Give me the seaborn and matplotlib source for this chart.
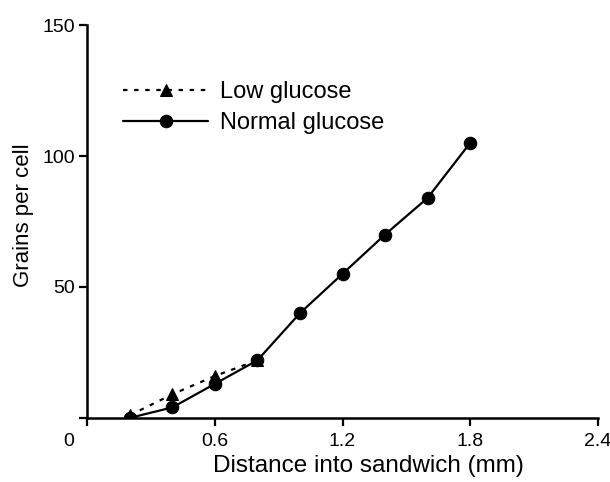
import numpy as np
import pandas as pd
import matplotlib
matplotlib.use("Agg")
import matplotlib.pyplot as plt
import matplotlib.transforms as mtransforms
import seaborn as sns

# data
dist_normal = [0.2, 0.4, 0.6, 0.8, 1.0, 1.2, 1.4, 1.6, 1.8]
grains_normal = [0, 4, 13, 22, 40, 55, 70, 84, 105]
dist_low = [0.2, 0.4, 0.6, 0.8]
grains_low = [1, 9, 16, 22]

x_ticks = [0, 0.6, 1.2, 1.8, 2.4]
x_tick_labels = ["0", "0.6", "1.2", "1.8", "2.4"]
y_ticks = [0, 50, 100, 150]
y_tick_labels = ["", "50", "100", "150"]

df = pd.concat([
    pd.DataFrame({"dist": dist_low, "grains": grains_low, "group": "Low glucose"}),
    pd.DataFrame({"dist": dist_normal, "grains": grains_normal, "group": "Normal glucose"}),
])

sns.set_style("ticks")
plt.rcParams["font.family"] = ["Liberation Sans", "DejaVu Sans"]
plt.rcParams["text.color"] = "black"
plt.rcParams["axes.labelcolor"] = "black"
plt.rcParams["xtick.color"] = "black"
plt.rcParams["ytick.color"] = "black"

fig = plt.figure(figsize=(6.1, 4.82), dpi=100)
ax = fig.add_axes([0.143, 0.133, 0.837, 0.815])

sns.lineplot(data=df, x="dist", y="grains", style="group", hue="group",
             palette=["black", "black"],
             dashes={"Low glucose": (2, 3), "Normal glucose": ""},
             markers={"Low glucose": "^", "Normal glucose": "o"},
             markersize=9, linewidth=1.6, markeredgecolor="black",
             ax=ax, legend=True)

ax.set_xlim(0, 2.4)
ax.set_ylim(0, 150)
ax.set_xticks(x_ticks)
ax.set_xticklabels(x_tick_labels, fontsize=14)
ax.set_yticks(y_ticks)
ax.set_yticklabels(y_tick_labels, fontsize=14)
ax.tick_params(axis="both", direction="out", length=6, width=1.6, color="black")
ax.tick_params(axis="x", pad=5)
ax.tick_params(axis="y", pad=3)

# shift the shared origin "0" a bit to the left
lab0 = ax.get_xticklabels()[0]
lab0.set_transform(lab0.get_transform() + mtransforms.ScaledTranslation(-0.19, 0, fig.dpi_scale_trans))

for s in ["top", "right"]:
    ax.spines[s].set_visible(False)
for s in ["left", "bottom"]:
    ax.spines[s].set_linewidth(1.8)
    ax.spines[s].set_color("black")

ax.set_xlabel("Distance into sandwich (mm)", fontsize=17.5)
ax.set_ylabel("Grains per cell", fontsize=16)
ax.xaxis.set_label_coords(0.55, -0.095)
ax.yaxis.set_label_coords(-0.105, 0.517)

leg = ax.legend(loc="upper left", bbox_to_anchor=(0.029, 0.912), frameon=False,
                fontsize=17, handlelength=3.6, handletextpad=0.5, labelspacing=0.4)
for h in leg.legend_handles:
    h.set_color("black")

fig.savefig("out.png", dpi=100)
